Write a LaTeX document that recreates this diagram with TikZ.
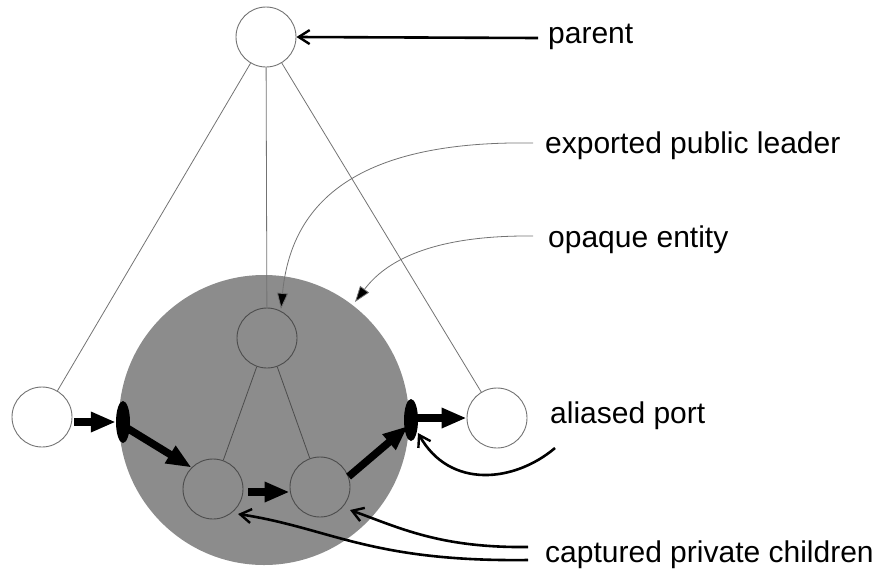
\documentclass[tikz,border=0pt]{standalone}
\usepackage{fontspec}
\setmainfont{Liberation Sans}
\usetikzlibrary{arrows.meta,shapes.geometric}
\definecolor{entitygray}{gray}{0.55}
\definecolor{thinline}{gray}{0.45}
\definecolor{innerline}{gray}{0.3}
\tikzset{
  entity/.style={circle, draw=thinline, line width=0.9pt, minimum size=60pt, inner sep=0pt},
  inner/.style={entity, draw=innerline},
  port/.style={ellipse, fill=black, minimum width=14pt, minimum height=42pt, inner sep=0pt},
  tree/.style={draw=thinline, line width=0.8pt},
  innertree/.style={draw=innerline, line width=0.8pt},
  flow/.style={line width=7.5pt, -{Triangle[length=25pt,width=19pt]}},
  label/.style={anchor=base west, font=\fontsize{30}{34}\selectfont, inner sep=0pt},
  pointer/.style={line width=2.6pt, -{Straight Barb[length=11pt,width=14pt,line width=2.4pt]}},
  fine/.style={draw=thinline, line width=0.8pt, -{Triangle[length=16pt,width=11pt,fill=black]}}
}
\begin{document}
\begin{tikzpicture}[x=1pt,y=-1pt]
  \useasboundingbox (0,0) rectangle (877,571);

  % the opaque entity
  \fill[entitygray] (264,420) circle (145);

  % nodes
  \node[entity] (parent) at (266,37) {};
  \node[entity] (left)   at (42,417) {};
  \node[entity] (right)  at (497,418) {};
  \node[inner]  (leader) at (267,338) {};
  \node[inner]  (kidA)   at (213,489) {};
  \node[inner]  (kidB)   at (320,487) {};

  % hierarchy
  \draw[tree] (parent) -- (left);
  \draw[tree] (parent) -- (right);
  \draw[tree] (parent) -- (leader);
  \draw[innertree] (leader) -- (kidA);
  \draw[innertree] (leader) -- (kidB);

  % ports
  \node[port] (pin)  at (123,422) {};
  \node[port] (pout) at (411,420) {};

  % data flow through the entity
  \draw[flow] (left.east) ++(2,5) coordinate (fl0) -- (fl0 -| pin.west);
  \draw[flow] (pin.center) ++(4,6) coordinate (fl1) -- (kidA.north west);
  \draw[flow] (kidA.east) ++(5,3) coordinate (fl2) -- (fl2 -| kidB.west);
  \draw[flow] (kidB.20) ++(0,0) coordinate (fl3) -- ([shift={(-3,6)}]pout.center);
  \draw[flow] (pout.center) ++(3,-2) coordinate (fl4) -- (fl4 -| right.west);

  % labels
  \node[label] (tparent) at (548,43)  {parent};
  \node[label] (tlead)   at (545,153) {exported public leader};
  \node[label] (topaque) at (548,247) {opaque entity};
  \node[label] (talias)  at (550,423) {aliased port};
  \node[label] (tcapt)   at (545,562) {captured private children};

  % label pointers
  \coordinate (c0) at (538,38);
  \draw[pointer] (c0) -- (parent.east);
  \coordinate (c1) at (533,143);
  \coordinate (e1) at (281,309);
  \draw[fine] (c1) .. controls (340,140) and (290,215) .. (e1);
  \coordinate (c2) at (533,236);
  \coordinate (e2) at (355,302);
  \draw[fine] (c2) .. controls (430,235) and (385,262) .. (e2);
  \coordinate (c3) at (555,448);
  \coordinate (e3) at (418,433);
  \draw[pointer] (c3) .. controls (515,482) and (450,490) .. (e3);
  \coordinate (c4) at (528,547);
  \coordinate (e4) at (350,510);
  \draw[pointer] (c4) .. controls (440,548) and (400,528) .. (e4);
  \coordinate (c5) at (528,560);
  \coordinate (e5) at (238,514);
  \draw[pointer] (c5) .. controls (370,562) and (330,528) .. (e5);
\end{tikzpicture}
\end{document}
